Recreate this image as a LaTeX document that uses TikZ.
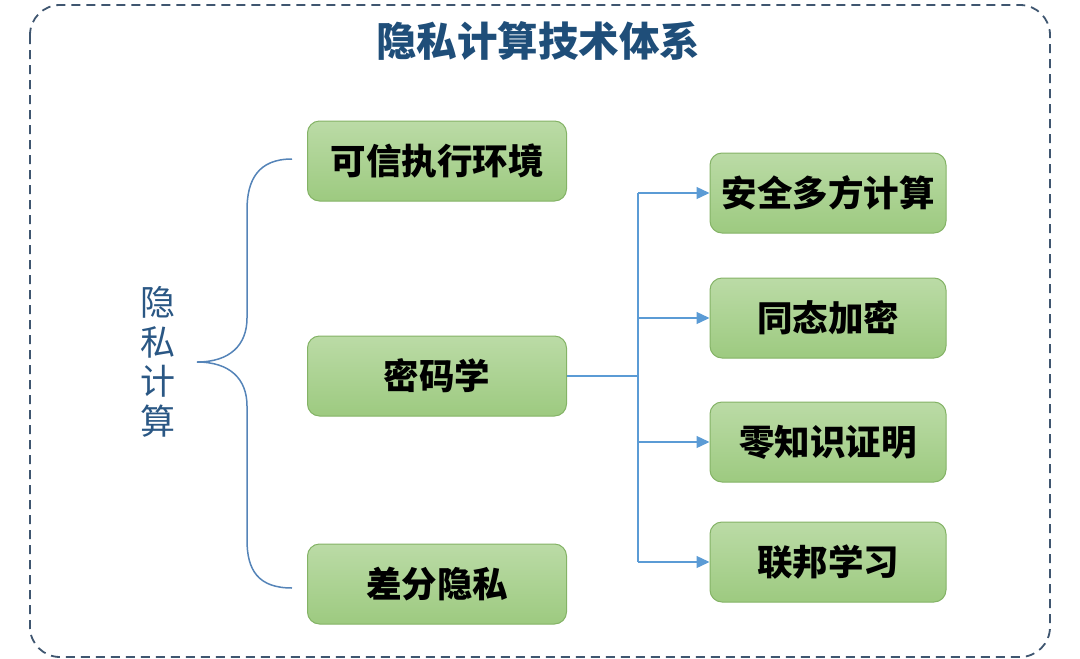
\documentclass[tikz,border=0pt]{standalone}
\usepackage{fontspec}
\setmainfont{Noto Sans CJK SC}
\usetikzlibrary{positioning,arrows.meta}

\definecolor{titleblue}{HTML}{1F4E79}
\definecolor{sideblue}{HTML}{2A5784}
\definecolor{frameblue}{HTML}{3F5670}
\definecolor{linkblue}{HTML}{5B9BD5}
\definecolor{bracecol}{HTML}{5584B8}
\definecolor{boxtop}{HTML}{BBDBA6}
\definecolor{boxbottom}{HTML}{9DCA80}
\definecolor{boxedge}{HTML}{84B366}

\tikzset{
  box/.style={draw=boxedge, line width=1pt, rounded corners=12pt,
    top color=boxtop, bottom color=boxbottom,
    minimum width=259pt, minimum height=80pt, inner sep=0pt,
    font=\fontsize{35.5}{40}\selectfont\bfseries},
  subbox/.style={box, minimum width=236pt},
  link/.style={draw=linkblue, line width=1.3pt}
}

\begin{document}
\begin{tikzpicture}[x=1pt, y=-1pt]
  \useasboundingbox (0,0) rectangle (1080,659);
  \draw[frameblue, line width=1.8pt, dash pattern=on 9pt off 6pt, rounded corners=30pt] (30,5) rectangle (1050,657);

  \node[font=\fontsize{40.5}{44}\selectfont\bfseries, text=titleblue] (title) at (538,41) {隐私计算技术体系};

  % left side
  \node[font=\fontsize{35}{39.5}\selectfont, text=sideblue, align=center] (root) at (158,362) {隐\\私\\计\\算};
  \node[box] (tee) at (437,161) {可信执行环境};
  \node[box] (crypto) at (437,376) {密码学};
  \node[box] (dp) at (437,584) {差分隐私};

  \coordinate (tip) at (197,362);
  \coordinate (bt) at ([xshift=-15pt,yshift=2pt]tee.west);
  \coordinate (bb) at ([xshift=-15pt,yshift=-4pt]dp.west);
  \draw[bracecol, line width=1.5pt]
    (bt) .. controls (258,159) and (247,180) .. (247,210) -- (247,318)
    .. controls (247,345) and (230,362) .. (tip)
    .. controls (230,362) and (247,379) .. (247,406) -- (247,540)
    .. controls (247,570) and (258,588) .. (bb);

  % right side
  \node[subbox] (mpc) at (828,193) {安全多方计算};
  \node[subbox] (he) at (828,318) {同态加密};
  \node[subbox] (zkp) at (828,442) {零知识证明};
  \node[subbox] (fl) at (828,562) {联邦学习};

  \coordinate (bus) at (638,376);
  \draw[link] (crypto.east) -- (bus);
  \draw[link] (bus |- mpc.west) -- (bus |- fl.west);
  \foreach \n in {mpc,he,zkp,fl}
    \draw[link, -{Triangle[length=13pt,width=12pt]}] (bus |- \n.west) -- (\n.west);
\end{tikzpicture}
\end{document}
